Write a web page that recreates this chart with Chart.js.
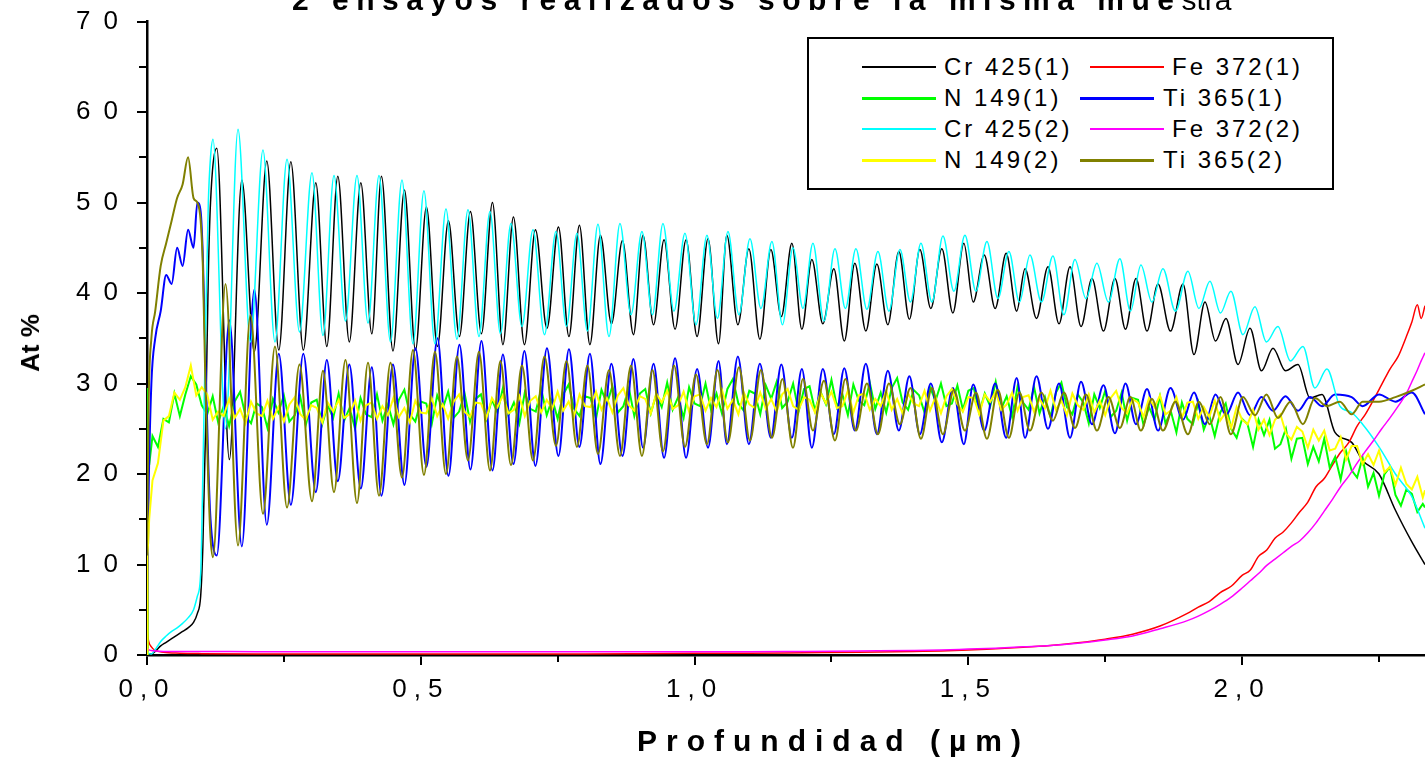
<!DOCTYPE html>
<html>
<head>
<meta charset="utf-8">
<title>2 ensayos realizados sobre la misma muestra</title>
<script src="https://cdn.jsdelivr.net/npm/chart.js@4.4.1/dist/chart.umd.min.js"></script>
<style>
  html, body { margin: 0; padding: 0; background: #fff; overflow: hidden; }
  #page { position: relative; width: 1425px; height: 762px; overflow: hidden;
          font-family: "Liberation Sans", Arial, sans-serif; color: #000; }
  #chart { position: absolute; left: 0; top: 0; }
  .txt { position: absolute; white-space: nowrap; }
  #title { left: 292px; top: -15px; font-size: 30px; line-height: 30px; font-weight: bold; letter-spacing: 7.5px; }
  #title span { font-weight: normal; letter-spacing: 0; }
  #xTitle { left: 637px; top: 726px; font-size: 30px; line-height: 30px; font-weight: bold; letter-spacing: 9px; }
  #yTitle { left: 30px; top: 343px; font-size: 26px; line-height: 26px; font-weight: bold;
            transform: translate(-50%, -50%) rotate(-90deg); }
  #legend { position: absolute; left: 807px; top: 37px; width: 527px; height: 153px;
            box-sizing: border-box; border: 2px solid #000; background: #fff; }
  .lg-line { position: absolute; width: 74px; }
  .lg-text { position: absolute; font-size: 24px; line-height: 24px; letter-spacing: 3px; white-space: nowrap; }
</style>
</head>
<body>
<div id="page">
  <canvas id="chart" width="1425" height="762"></canvas>
  <div id="title" class="txt">2 ensayos realizados sobre la misma mue<span>stra</span></div>
  <div id="yTitle" class="txt">At %</div>
  <div id="xTitle" class="txt">Profundidad (µm)</div>
  <div id="legend"></div>
</div>
<script>
// depth (µm) of the Cr / Ti samples, run 1: start of the sputter, then each max / min of the layers
const depth1 = [
  0, 0.003, 0.008, 0.015, 0.025, 0.035, 0.045, 0.055, 0.065, 0.075, 0.085, 0.092, 0.098, 0.102, 0.107, 0.112, 0.116,
  0.1275, 0.1504, 0.1732, 0.1960, 0.2188, 0.2407, 0.2627, 0.2855, 0.3083, 0.3284,
  0.3485, 0.3695, 0.3905, 0.4106, 0.4282, 0.4492, 0.4702, 0.4903, 0.5103, 0.5304,
  0.5505, 0.5706, 0.5907, 0.6108, 0.6309, 0.6500, 0.6692, 0.6893, 0.7094, 0.7304,
  0.7514, 0.7706, 0.7897, 0.8089, 0.8281, 0.8482, 0.8683, 0.8884, 0.9059, 0.9251,
  0.9443, 0.9644, 0.9845, 1.0046, 1.0246, 1.0438, 1.0590, 1.0791, 1.0992, 1.1193,
  1.1393, 1.1585, 1.1777, 1.1960, 1.2142, 1.2343, 1.2544, 1.2735, 1.2927, 1.3128,
  1.3329, 1.3530, 1.3731, 1.3923, 1.4114, 1.4315, 1.4516, 1.4717, 1.4918, 1.5089,
  1.5290, 1.5490, 1.5691, 1.5883, 1.6035, 1.6245, 1.6455, 1.6656, 1.6857, 1.7058,
  1.7258, 1.7468, 1.7678, 1.7870, 1.8062, 1.8263, 1.8464, 1.8692, 1.8920, 1.9121,
  1.9322, 1.9514, 1.9705, 1.9925, 2.0144, 2.0354, 2.0564, 2.0792, 2.1020, 2.1240,
  2.1459, 2.1696,
  2.20, 2.22, 2.25, 2.28, 2.31, 2.334
];

// same for run 2
const depth2 = [
  0, 0.003, 0.008, 0.015, 0.025, 0.035, 0.045, 0.055, 0.065, 0.075, 0.085, 0.092, 0.098, 0.102, 0.107, 0.112, 0.116,
  0.1205, 0.1434, 0.1662, 0.1890, 0.2118, 0.2337, 0.2557, 0.2785, 0.3013, 0.3214,
  0.3415, 0.3625, 0.3835, 0.4036, 0.4237, 0.4447, 0.4657, 0.4858, 0.5058, 0.5259,
  0.5460, 0.5661, 0.5862, 0.6063, 0.6264, 0.6455, 0.6647, 0.6848, 0.7049, 0.7259,
  0.7469, 0.7661, 0.7852, 0.8044, 0.8236, 0.8437, 0.8638, 0.8839, 0.9039, 0.9231,
  0.9423, 0.9624, 0.9825, 1.0026, 1.0226, 1.0418, 1.0610, 1.0811, 1.1012, 1.1213,
  1.1413, 1.1605, 1.1797, 1.1980, 1.2162, 1.2363, 1.2564, 1.2755, 1.2947, 1.3148,
  1.3349, 1.3550, 1.3751, 1.3943, 1.4134, 1.4335, 1.4536, 1.4737, 1.4938, 1.5139,
  1.5340, 1.5540, 1.5741, 1.5933, 1.6125, 1.6335, 1.6545, 1.6746, 1.6947, 1.7148,
  1.7348, 1.7558, 1.7768, 1.7960, 1.8152, 1.8353, 1.8554, 1.8782, 1.9010, 1.9211,
  1.9412, 1.9604, 1.9795, 2.0015, 2.0234, 2.0444, 2.0654, 2.0882, 2.1110, 2.1330,
  2.1549, 2.1786,
  2.20, 2.22, 2.25, 2.28, 2.31, 2.334
];

const cr1 = [
  0.3, 0.1, 0.1, 0.4, 1.0, 1.4, 1.8, 2.2, 2.6, 3.0, 3.6, 4.6, 6.5, 12, 25, 42, 50,
  56.0, 21.6, 52.5, 33.5, 54.6, 33.7, 54.5, 33.7, 52.2, 34.1,
  52.9, 34.6, 52.2, 35.5, 52.9, 33.6, 51.4, 33.7, 49.5, 34.1,
  48.0, 35.2, 49.0, 35.5, 50.0, 34.3, 48.4, 34.3, 47.0, 36.1,
  47.3, 35.2, 47.5, 34.3, 46.4, 36.6, 45.8, 35.4, 46.4, 36.5,
  45.9, 36.0, 45.9, 35.2, 46.0, 34.4, 46.4, 36.5, 44.9, 34.9,
  44.8, 37.4, 45.5, 36.0, 43.7, 36.6, 42.7, 34.7, 43.3, 35.8,
  43.2, 36.5, 44.6, 37.1, 44.8, 38.3, 44.9, 37.8, 45.5, 39.0,
  44.2, 38.3, 44.4, 38.0, 42.7, 37.2, 42.9, 36.6, 42.9, 36.3,
  41.6, 35.8, 41.6, 36.0, 41.6, 35.8, 41.0, 35.8, 41.0, 33.2,
  39.0, 34.7, 37.2, 32.1, 36.1, 31.4, 33.9, 31.4, 32.1, 28.4,
  28.8, 24.6,
  23.5, 21.5, 20.0, 16.0, 12.5, 10.0
];

const cr2 = [
  0.5, 0.2, 0.1, 0.6, 1.5, 2.1, 2.6, 3.0, 3.5, 4.1, 5.0, 6.5, 9.0, 20, 36, 50, 55,
  57.0, 25.0, 58.1, 34.6, 55.8, 34.6, 54.8, 35.7, 53.3, 35.3,
  53.0, 36.9, 53.0, 36.7, 53.0, 34.6, 52.5, 34.4, 51.3, 34.4,
  49.3, 34.9, 49.2, 35.2, 49.0, 35.5, 47.7, 36.3, 47.0, 35.4,
  46.8, 36.3, 46.6, 35.8, 47.6, 35.2, 47.7, 37.6, 46.8, 37.6,
  47.7, 38.0, 46.6, 36.5, 46.4, 37.2, 46.8, 37.6, 46.0, 38.3,
  45.7, 36.5, 45.0, 38.3, 45.5, 36.9, 44.9, 38.3, 44.9, 38.2,
  44.6, 38.0, 44.8, 39.0, 45.5, 39.0, 46.3, 40.2, 46.4, 40.2,
  45.7, 39.4, 44.6, 39.0, 44.2, 39.0, 44.1, 37.6, 43.7, 39.4,
  43.3, 39.0, 43.8, 38.0, 43.1, 39.0, 42.7, 38.0, 42.4, 38.3,
  41.3, 37.8, 40.2, 35.4, 38.5, 34.6, 36.3, 32.5, 34.1, 29.5,
  31.6, 27.5,
  26.8, 25.5, 23.0, 20.0, 17.5, 14.0
];

const ti1 = [
  2, 18, 30, 35, 38, 42, 41, 45, 43, 47, 45, 50, 49, 44, 32, 21, 15,
  11.0, 37.0, 12.0, 40.4, 14.4, 33.3, 16.6, 33.3, 18.0, 32.6,
  19.2, 32.1, 18.4, 31.8, 17.6, 32.1, 18.8, 33.9, 20.8, 35.0,
  19.8, 34.3, 20.5, 34.7, 20.4, 33.2, 21.1, 33.6, 20.9, 33.9,
  22.0, 33.8, 23.0, 33.3, 21.1, 32.2, 22.0, 32.7, 22.9, 32.2,
  21.8, 32.8, 21.8, 31.6, 22.9, 32.5, 23.3, 33.0, 23.3, 32.2,
  24.0, 32.1, 24.0, 31.6, 22.9, 31.6, 24.4, 31.7, 24.8, 32.2,
  24.4, 31.4, 24.8, 30.8, 24.4, 30.0, 23.5, 29.5, 23.3, 29.9,
  24.8, 30.0, 24.0, 30.6, 24.0, 30.8, 25.0, 30.0, 24.0, 30.2,
  25.5, 29.8, 24.5, 30.0, 25.5, 29.4, 24.8, 29.5, 26.0, 29.0,
  25.5, 28.8, 26.5, 29.0, 26.5, 28.5, 27.0, 28.6, 27.0, 28.5,
  27.5, 28.8,
  28.5, 27.5, 28.8, 28.0, 29.0, 26.6
];

const ti2 = [
  11, 28, 35, 38, 43, 45.5, 48, 50.5, 52, 55, 50.5, 50, 48, 43, 29, 19, 13,
  10.8, 41.0, 12.1, 37.6, 15.6, 34.1, 16.3, 32.1, 17.0, 31.4,
  18.0, 32.6, 16.8, 32.3, 17.6, 32.3, 19.6, 33.7, 19.9, 33.5,
  20.0, 33.0, 21.5, 33.5, 20.4, 32.5, 21.0, 32.0, 21.5, 33.0,
  23.1, 32.5, 23.0, 32.0, 22.2, 31.5, 22.0, 32.0, 22.0, 31.5,
  22.5, 32.0, 23.0, 31.0, 23.3, 31.5, 23.5, 31.8, 23.7, 31.5,
  24.0, 30.5, 22.9, 30.5, 24.8, 30.3, 23.7, 30.5, 24.8, 30.0,
  24.4, 30.0, 25.5, 29.5, 23.9, 29.5, 24.4, 29.3, 24.8, 29.0,
  23.9, 29.3, 24.0, 29.0, 24.8, 29.0, 25.9, 29.0, 25.1, 28.8,
  24.8, 28.5, 25.1, 28.5, 24.8, 28.3, 24.8, 28.0, 24.4, 28.0,
  25.5, 28.5, 24.4, 28.5, 26.5, 28.8, 26.2, 28.0, 25.5, 28.4,
  27.5, 28.0,
  26.6, 28.0, 28.0, 28.5, 29.2, 29.9
];

// depth (µm) of the N samples
const nDepth = [
  0, 0.001, 0.004,
  0.01, 0.02, 0.03, 0.04, 0.05, 0.06, 0.07, 0.08, 0.09, 0.10,
  0.11, 0.12, 0.13, 0.14, 0.15, 0.16, 0.17, 0.18, 0.19, 0.20,
  0.21, 0.22, 0.23, 0.24, 0.25, 0.26, 0.27, 0.28, 0.29, 0.30,
  0.31, 0.32, 0.33, 0.34, 0.35, 0.36, 0.37, 0.38, 0.39, 0.40,
  0.41, 0.42, 0.43, 0.44, 0.45, 0.46, 0.47, 0.48, 0.49, 0.50,
  0.51, 0.52, 0.53, 0.54, 0.55, 0.56, 0.57, 0.58, 0.59, 0.60,
  0.61, 0.62, 0.63, 0.64, 0.65, 0.66, 0.67, 0.68, 0.69, 0.70,
  0.71, 0.72, 0.73, 0.74, 0.75, 0.76, 0.77, 0.78, 0.79, 0.80,
  0.81, 0.82, 0.83, 0.84, 0.85, 0.86, 0.87, 0.88, 0.89, 0.90,
  0.91, 0.92, 0.93, 0.94, 0.95, 0.96, 0.97, 0.98, 0.99, 1.00,
  1.01, 1.02, 1.03, 1.04, 1.05, 1.06, 1.07, 1.08, 1.09, 1.10,
  1.11, 1.12, 1.13, 1.14, 1.15, 1.16, 1.17, 1.18, 1.19, 1.20,
  1.21, 1.22, 1.23, 1.24, 1.25, 1.26, 1.27, 1.28, 1.29, 1.30,
  1.31, 1.32, 1.33, 1.34, 1.35, 1.36, 1.37, 1.38, 1.39, 1.40,
  1.41, 1.42, 1.43, 1.44, 1.45, 1.46, 1.47, 1.48, 1.49, 1.50,
  1.51, 1.52, 1.53, 1.54, 1.55, 1.56, 1.57, 1.58, 1.59, 1.60,
  1.61, 1.62, 1.63, 1.64, 1.65, 1.66, 1.67, 1.68, 1.69, 1.70,
  1.71, 1.72, 1.73, 1.74, 1.75, 1.76, 1.77, 1.78, 1.79, 1.80,
  1.81, 1.82, 1.83, 1.84, 1.85, 1.86, 1.87, 1.88, 1.89, 1.90,
  1.91, 1.92, 1.93, 1.94, 1.95, 1.96, 1.97, 1.98, 1.99, 2.00,
  2.01, 2.02, 2.03, 2.04, 2.05, 2.06, 2.07, 2.08, 2.09, 2.10,
  2.11, 2.12, 2.13, 2.14, 2.15, 2.16, 2.17, 2.18, 2.19, 2.20,
  2.21, 2.22, 2.23, 2.24, 2.25, 2.26, 2.27, 2.28, 2.29, 2.30,
  2.31, 2.32, 2.33, 2.334
];

const n1 = [
  0, 29.5, 21.0,
  24.2, 23.0, 26.1, 25.7, 28.9, 26.4, 28.8, 30.8, 29.9, 27.6,
  26.6, 28.6, 25.7, 27.5, 25.3, 28.0, 29.1, 26.4, 25.6, 27.8,
  27.4, 25.1, 28.3, 26.8, 28.7, 25.8, 26.5, 28.5, 25.4, 27.9,
  28.2, 25.5, 27.6, 26.2, 28.9, 25.9, 27.3, 25.0, 28.4, 26.6,
  26.3, 28.8, 25.9, 27.7, 25.5, 28.2, 29.3, 26.6, 25.8, 28.0,
  27.8, 25.5, 28.7, 27.2, 29.1, 26.2, 26.9, 28.9, 25.8, 28.3,
  28.8, 26.1, 28.2, 26.8, 29.5, 26.5, 27.9, 25.6, 29.0, 27.2,
  26.9, 29.4, 26.5, 28.3, 26.1, 28.8, 29.9, 27.2, 26.4, 28.6,
  28.4, 26.1, 29.3, 27.8, 29.7, 26.8, 27.5, 29.5, 26.4, 28.9,
  29.4, 26.7, 28.8, 27.4, 30.1, 27.1, 28.5, 26.2, 29.6, 27.8,
  27.5, 30.0, 27.1, 28.9, 26.7, 29.4, 30.5, 27.8, 27.0, 29.2,
  28.9, 26.6, 29.8, 28.3, 30.2, 27.3, 28.0, 30.0, 26.9, 29.4,
  29.7, 27.0, 29.1, 27.7, 30.4, 27.4, 28.8, 26.5, 29.9, 28.1,
  27.6, 30.1, 27.2, 29.0, 26.8, 29.5, 30.6, 27.9, 27.1, 29.3,
  28.7, 26.8, 29.6, 28.1, 30.0, 27.5, 27.8, 29.8, 27.1, 29.2,
  29.5, 26.8, 28.9, 27.5, 30.2, 27.2, 28.6, 26.3, 29.7, 27.9,
  27.1, 29.6, 26.7, 28.5, 26.3, 29.0, 30.1, 27.4, 26.6, 28.8,
  27.9, 25.6, 28.8, 27.3, 29.2, 26.3, 27.0, 29.0, 25.9, 28.4,
  28.2, 25.4, 27.4, 26.0, 28.6, 25.6, 26.9, 24.6, 27.9, 26.1,
  25.5, 27.9, 24.9, 26.5, 24.2, 26.8, 27.8, 25.0, 24.0, 26.1,
  25.5, 23.0, 26.0, 24.3, 26.0, 22.8, 23.3, 25.0, 21.7, 23.9,
  24.0, 21.1, 23.0, 21.4, 23.9, 20.7, 21.9, 19.4, 22.5, 20.4,
  19.6, 21.8, 18.6, 20.1, 17.6, 20.0, 20.8, 17.7, 16.5, 18.3,
  17.8, 15.8, 16.7, 16.3
];

const n2 = [
  0, 11.0, 15.0,
  19.3, 21.2, 25.9, 26.4, 29.0, 28.2, 29.6, 32.0, 28.7, 29.6,
  28.8, 26.0, 26.9, 26.4, 28.3, 26.2, 27.2, 25.6, 28.0, 26.7,
  26.4, 28.1, 26.1, 27.4, 25.8, 27.7, 28.5, 26.6, 26.0, 27.6,
  27.3, 25.7, 27.9, 26.9, 28.2, 26.2, 26.6, 28.1, 25.9, 27.6,
  27.9, 26.1, 27.5, 26.5, 28.4, 26.3, 27.3, 25.7, 28.1, 26.8,
  26.7, 28.4, 26.4, 27.7, 26.1, 28.0, 28.8, 26.9, 26.3, 27.9,
  27.8, 26.2, 28.4, 27.4, 28.7, 26.7, 27.1, 28.6, 26.4, 28.1,
  28.6, 26.8, 28.2, 27.2, 29.1, 27.0, 28.0, 26.4, 28.8, 27.5,
  27.4, 29.1, 27.1, 28.4, 26.8, 28.7, 29.5, 27.6, 27.0, 28.6,
  28.3, 26.7, 28.9, 27.9, 29.2, 27.2, 27.6, 29.1, 26.9, 28.6,
  28.8, 27.0, 28.4, 27.4, 29.3, 27.2, 28.2, 26.6, 29.0, 27.7,
  27.3, 29.0, 27.2, 28.3, 26.9, 28.8, 29.4, 27.5, 27.1, 28.5,
  28.2, 26.8, 29.0, 27.8, 29.1, 27.3, 27.5, 29.2, 26.8, 28.7,
  28.9, 27.1, 28.3, 27.5, 29.2, 27.1, 28.3, 26.7, 28.9, 27.8,
  27.5, 29.2, 27.0, 28.5, 26.7, 28.6, 29.4, 27.7, 26.9, 28.5,
  28.4, 26.6, 28.8, 28.0, 29.1, 27.1, 27.7, 29.0, 27.0, 28.5,
  28.7, 26.9, 28.3, 27.3, 29.2, 27.1, 28.1, 26.5, 28.9, 27.6,
  27.1, 28.8, 26.8, 28.1, 26.5, 28.4, 29.2, 27.3, 26.7, 28.3,
  27.9, 26.3, 28.4, 27.4, 28.7, 26.6, 27.0, 28.5, 26.2, 27.9,
  28.0, 26.1, 27.4, 26.3, 28.1, 25.9, 26.8, 25.1, 27.4, 26.0,
  25.5, 27.1, 24.9, 26.0, 24.3, 26.0, 26.6, 24.5, 23.8, 25.2,
  24.7, 22.9, 24.9, 23.7, 24.8, 22.6, 22.8, 24.1, 21.6, 23.1,
  23.1, 21.1, 22.2, 21.0, 22.6, 20.2, 20.8, 18.8, 20.7, 18.9,
  18.3, 19.7, 17.4, 18.2
];

// depth (µm) of the Fe samples
const feDepth = [
  0, 0.003, 0.008, 0.015, 0.03, 0.06, 0.1, 0.2, 0.3, 0.4, 0.5, 0.6, 0.7, 0.8, 0.9,
  1.0, 1.1, 1.2, 1.3, 1.4, 1.45, 1.5, 1.55, 1.6, 1.65, 1.7, 1.75, 1.8, 1.85, 1.9,
  1.92, 1.94, 1.96, 1.98, 2.0, 2.015, 2.03, 2.045, 2.06, 2.075, 2.09, 2.105, 2.12, 2.135,
  2.15, 2.165, 2.18, 2.195, 2.21, 2.225, 2.24, 2.255, 2.27, 2.285, 2.3, 2.31, 2.32, 2.327, 2.334
];

const fe1 = [
  2.8, 1.5, 0.9, 0.5, 0.3, 0.2, 0.15, 0.1, 0.1, 0.1, 0.1, 0.1, 0.1, 0.12, 0.15,
  0.18, 0.2, 0.25, 0.3, 0.4, 0.45, 0.55, 0.7, 0.85, 1.05, 1.35, 1.75, 2.3, 3.2, 4.6,
  5.3, 5.9, 6.9, 7.6, 8.8, 9.4, 10.9, 11.6, 12.9, 13.6, 14.6, 15.8, 16.9, 18.6,
  19.5, 21.0, 22.4, 23.5, 25.3, 26.6, 28.2, 29.9, 31.6, 33.0, 35.2, 36.8, 38.7, 37.2, 38.6
];

const fe2 = [
  0.8, 0.6, 0.5, 0.45, 0.4, 0.4, 0.4, 0.35, 0.35, 0.35, 0.35, 0.35, 0.35, 0.35, 0.35,
  0.35, 0.35, 0.4, 0.45, 0.5, 0.55, 0.65, 0.75, 0.9, 1.05, 1.3, 1.65, 2.1, 2.9, 3.8,
  4.3, 4.9, 5.6, 6.4, 7.4, 8.2, 9.0, 9.9, 10.6, 11.3, 12.0, 12.6, 13.5, 14.6,
  15.9, 17.2, 18.6, 19.8, 21.2, 22.5, 23.7, 25.0, 26.2, 27.5, 28.9, 30.2, 31.5, 32.5, 33.4
];

const xTicks = [0, 0.5, 1.0, 1.5, 2.0];
const xTickLabels = ['0,0', '0,5', '1,0', '1,5', '2,0'];
const xMinorTicks = [0.25, 0.75, 1.25, 1.75, 2.25];
const yMinorTicks = [5, 15, 25, 35, 45, 55, 65];

const pts = (xs, ys) => xs.map((x, i) => ({ x: x, y: ys[i] }));
const tickFont = { family: '"Liberation Sans", Arial, sans-serif', size: 26 };

// legend order; later ones are drawn on top
const series = [
  { label: 'Cr 425(1)', xs: depth1,  ys: cr1, color: '#000000', width: 1.5, key: 2, smooth: true },
  { label: 'Fe 372(1)', xs: feDepth, ys: fe1, color: '#ff0000', width: 1.5, key: 2, smooth: true },
  { label: 'N 149(1)',  xs: nDepth,  ys: n1,  color: '#00ff00', width: 2,   key: 3, smooth: false },
  { label: 'Ti 365(1)', xs: depth1,  ys: ti1, color: '#0000ff', width: 2,   key: 3, smooth: true },
  { label: 'Cr 425(2)', xs: depth2,  ys: cr2, color: '#00ffff', width: 1.5, key: 2, smooth: true },
  { label: 'Fe 372(2)', xs: feDepth, ys: fe2, color: '#ff00ff', width: 1.5, key: 2, smooth: true },
  { label: 'N 149(2)',  xs: nDepth,  ys: n2,  color: '#ffff00', width: 2,   key: 3, smooth: false },
  { label: 'Ti 365(2)', xs: depth2,  ys: ti2, color: '#808000', width: 2,   key: 3, smooth: true }
];

// spaced out digits like the original: x labels are drawn before the lines, y labels after
const textSpacing = {
  id: 'textSpacing',
  beforeDraw(chart) { chart.ctx.letterSpacing = '7px'; },
  afterDatasetsDraw(chart) { chart.ctx.letterSpacing = '13px'; }
};

// small ticks between the labelled ones
const minorTicks = {
  id: 'minorTicks',
  afterDraw(chart) {
    const { ctx, scales: { x, y } } = chart;
    ctx.save();
    ctx.strokeStyle = '#000';
    ctx.lineWidth = 2;
    ctx.beginPath();
    xMinorTicks.forEach(v => {
      const px = Math.round(x.getPixelForValue(v));
      ctx.moveTo(px, x.top);
      ctx.lineTo(px, x.top + 7);
    });
    yMinorTicks.forEach(v => {
      const py = Math.round(y.getPixelForValue(v));
      ctx.moveTo(y.right, py);
      ctx.lineTo(y.right - 8, py);
    });
    ctx.stroke();
    ctx.restore();
  }
};

const ctx = document.getElementById('chart').getContext('2d');
const chart = new Chart(ctx, {
  type: 'line',
  data: {
    datasets: series.map((s, i) => ({
      label: s.label,
      data: pts(s.xs, s.ys),
      borderColor: s.color,
      backgroundColor: s.color,
      borderWidth: s.width,
      pointRadius: 0,
      fill: false,
      tension: 0,
      cubicInterpolationMode: s.smooth ? 'monotone' : 'default',
      order: series.length - i
    }))
  },
  options: {
    responsive: false,
    animation: false,
    devicePixelRatio: 1,
    events: [],
    layout: { padding: { top: 19, right: 0, bottom: 0, left: 0 } },
    plugins: {
      legend: { display: false },
      title: { display: false },
      tooltip: { enabled: false }
    },
    scales: {
      x: {
        type: 'linear',
        min: 0,
        max: 2.334,
        afterFit: (scale) => { scale.height = 107; },
        border: { color: '#000', width: 2.5 },
        grid: { drawOnChartArea: false, color: '#000', lineWidth: 2, tickLength: 10 },
        ticks: {
          stepSize: 0.5,
          includeBounds: false,
          autoSkip: false,
          maxRotation: 0,
          padding: 9,
          color: '#000',
          font: tickFont,
          callback: (v) => {
            const i = xTicks.indexOf(v);
            return i >= 0 ? xTickLabels[i] : '';
          }
        }
      },
      y: {
        type: 'linear',
        min: 0,
        max: 70,
        afterFit: (scale) => { scale.width = 147; },
        border: { color: '#000', width: 2.5 },
        grid: { drawOnChartArea: false, color: '#000', lineWidth: 2, tickLength: 10 },
        ticks: { stepSize: 10, padding: 6, color: '#000', font: tickFont, z: 1 }
      }
    }
  },
  plugins: [textSpacing, minorTicks]
});

// legend box, drawn as html over the canvas
const legendSlots = [
  { line: 862,  text: 944,  row: 67 },
  { line: 1090, text: 1172, row: 67 },
  { line: 862,  text: 944,  row: 98 },
  { line: 1080, text: 1163, row: 98 },
  { line: 862,  text: 944,  row: 129 },
  { line: 1090, text: 1172, row: 129 },
  { line: 862,  text: 944,  row: 160 },
  { line: 1080, text: 1163, row: 160 }
];
const page = document.getElementById('page');
series.forEach((s, i) => {
  const slot = legendSlots[i];
  const line = document.createElement('div');
  line.className = 'lg-line';
  line.style.left = slot.line + 'px';
  line.style.top = (slot.row - Math.floor(s.key / 2)) + 'px';
  line.style.height = s.key + 'px';
  line.style.background = s.color;
  page.appendChild(line);
  const txt = document.createElement('div');
  txt.className = 'lg-text';
  txt.style.left = slot.text + 'px';
  txt.style.top = (slot.row - 12) + 'px';
  txt.textContent = s.label;
  page.appendChild(txt);
});
</script>
</body>
</html>
